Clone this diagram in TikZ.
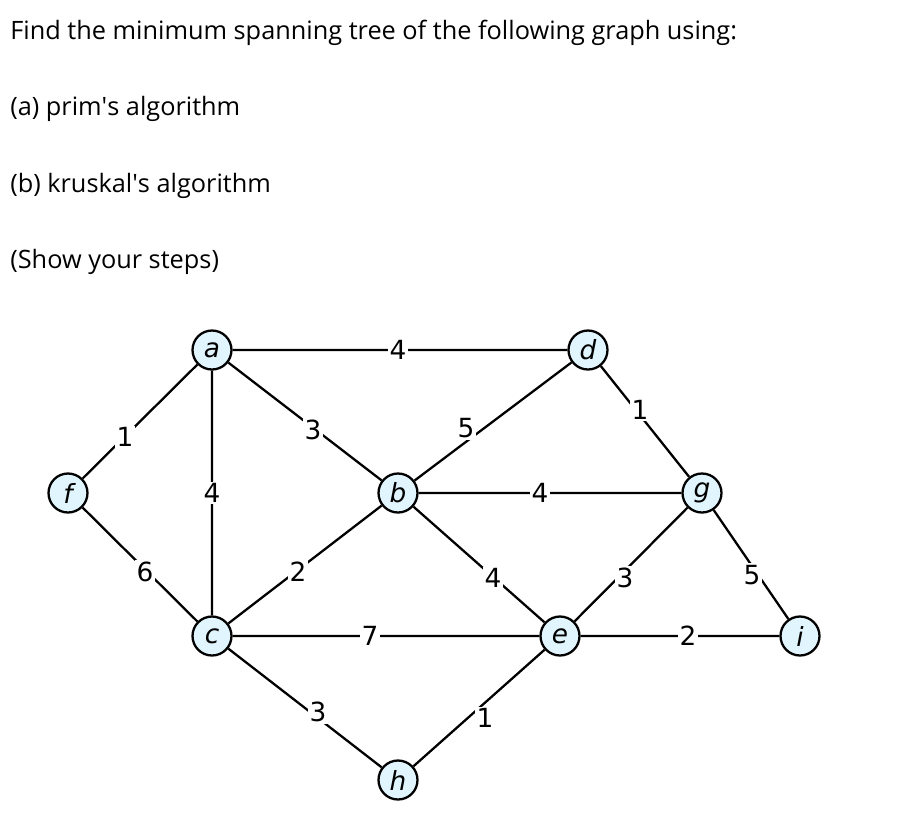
\documentclass[tikz,border=0pt]{standalone}
\usepackage{fontspec}
\setmainfont{Open Sans}[Ligatures=NoCommon]
\newfontfamily\vfont{DejaVu Sans}
\begin{document}
\begin{tikzpicture}[x=0.02cm,y=-0.02cm,
  vtx/.style={circle,draw,line width=1.3pt,fill=cyan!12,minimum size=0.78cm,inner sep=0pt,font=\vfont\itshape\fontsize{15}{15}\selectfont},
  lbl/.style={fill=white,inner sep=1pt,font=\vfont\fontsize{15}{15}\selectfont},
  edge/.style={line width=1.3pt},
  txt/.style={anchor=west,inner sep=0pt,font=\fontsize{14.4}{16}\selectfont}]
\useasboundingbox (0,0) rectangle (900,826);
\node[txt] (t1) at (10,33) {Find the minimum spanning tree of the following graph using:};
\node[txt] (t2) at (10,109) {(a) prim\textquotesingle s algorithm};
\node[txt] (t3) at (10,186) {(b) kruskal\textquotesingle s algorithm};
\node[txt] (t4) at (10,262) {(Show your steps)};
\node[vtx] (a) at (212,350) {a};
\node[vtx] (d) at (588,350) {d};
\node[vtx] (f) at (68,493) {f};
\node[vtx] (b) at (398,493) {b};
\node[vtx] (g) at (702,493) {g};
\node[vtx] (c) at (212,636) {c};
\node[vtx] (e) at (560,636) {e};
\node[vtx] (i) at (800,636) {i};
\node[vtx] (h) at (398,780) {h};
\draw[edge] (a)--(d) (a)--(f) (a)--(c) (a)--(b) (d)--(b) (d)--(g) (b)--(g)
  (f)--(c) (c)--(b) (b)--(e) (g)--(e) (g)--(i) (c)--(e) (e)--(i) (c)--(h) (h)--(e);
\node[lbl] (l1) at (398,350) {4};
\node[lbl] (l2) at (125,437) {1};
\node[lbl] (l3) at (212,493) {4};
\node[lbl] (l4) at (313,430) {3};
\node[lbl] (l5) at (466,428) {5};
\node[lbl] (l6) at (640,410) {1};
\node[lbl] (l7) at (540,493) {4};
\node[lbl] (l8) at (145,572) {6};
\node[lbl] (l9) at (298,572) {2};
\node[lbl] (l10) at (493,578) {4};
\node[lbl] (l11) at (625,578) {3};
\node[lbl] (l12) at (752,575) {5};
\node[lbl] (l13) at (370,636) {7};
\node[lbl] (l14) at (688,636) {2};
\node[lbl] (l15) at (318,712) {3};
\node[lbl] (l16) at (485,718) {1};
\end{tikzpicture}
\end{document}
